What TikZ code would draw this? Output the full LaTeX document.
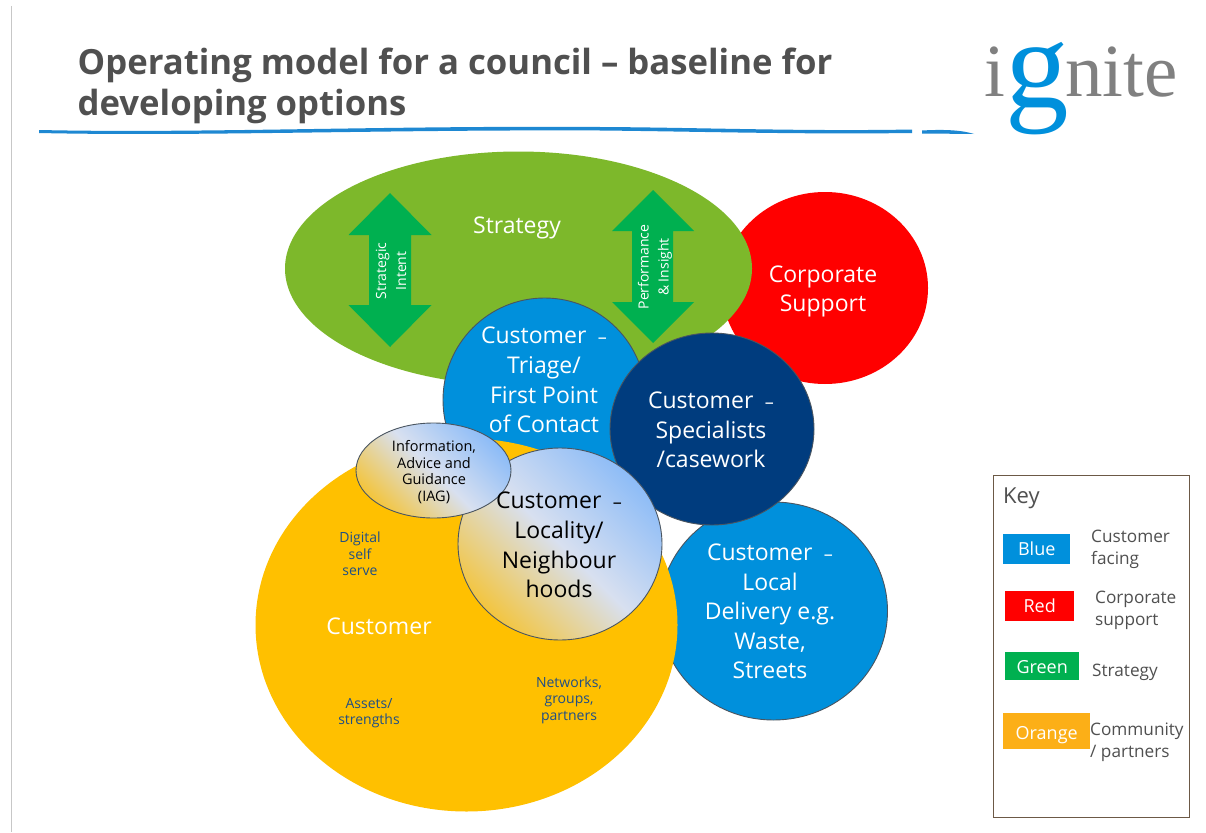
\documentclass[tikz,border=0pt]{standalone}
\usepackage{fontspec}
\setmainfont{Open Sans}
\newfontfamily\logofont{Liberation Serif}
\usetikzlibrary{shapes.geometric,shapes.arrows}
\definecolor{cblue}{HTML}{0090DC}
\definecolor{cnavy}{HTML}{003C7E}
\definecolor{cgreen}{HTML}{7DB82B}
\definecolor{cdgreen}{HTML}{00B050}
\definecolor{cred}{HTML}{FF0000}
\definecolor{cyellow}{HTML}{FFC000}
\definecolor{corange}{HTML}{FCAF17}
\definecolor{ctext}{HTML}{505050}
\definecolor{cnote}{HTML}{1F4E86}
\definecolor{cline}{HTML}{1E88D2}
\definecolor{cedge}{HTML}{4A5560}
\definecolor{cgb}{HTML}{8DBCF7}
\definecolor{cgm}{HTML}{D8E0F0}
\definecolor{cgo}{HTML}{F3C53F}
\newcommand{\shortdash}{\,\,\,{\fontsize{18}{18}\selectfont –}}
\tikzset{
  x=1pt,y=-1pt,
  blob/.style={ellipse,inner sep=0pt,outer sep=0pt},
  edged/.style={blob,draw=cedge,line width=0.9pt},
  glass/.style={edged,bottom color=cgo,top color=cgb,middle color=cgm,shading angle=-45},
  big/.style={align=center,inner sep=0pt,text=white,font=\fontsize{23}{29.6}\selectfont},
  iag/.style={align=center,inner sep=0pt,font=\fontsize{14.5}{16.6}\selectfont},
  note/.style={align=center,inner sep=0pt,text=cnote,font=\fontsize{14}{16.6}\selectfont},
  sidetxt/.style={align=center,inner sep=0pt,text=white,rotate=90,font=\fontsize{14}{20}\selectfont},
  swatch/.style={inner sep=0pt,anchor=north west},
  swatchtxt/.style={inner sep=0pt,text=white,text height=13pt,text depth=4pt,font=\fontsize{18}{22}\selectfont},
  keytxt/.style={align=left,inner sep=0pt,anchor=west,text=ctext,font=\fontsize{17.2}{22.4}\selectfont},
  dbl/.style={fill=cdgreen,draw=none},
}
\begin{document}
\begin{tikzpicture}
\useasboundingbox (0,0) rectangle (1206,832);
\fill[white] (0,0) rectangle (1206,832);
\draw[line width=1pt,color=black!22] (11,6) -- (11,832);
% title
\node[anchor=west,align=left,inner sep=0pt,text=ctext,font=\fontsize{34.7}{41}\selectfont\bfseries] (title) at (77.5,85.5) {Operating model for a council – baseline for\\developing options};
% brush rule
\fill[cline] (39,130) .. controls (200,133.5) and (380,125.5) .. (600,127) .. controls (700,127.5) and (800,131.5) .. (912,129.5) -- (912,133) .. controls (800,134.5) and (700,131.5) .. (600,130.5) .. controls (380,129.5) and (200,136.5) .. (39,133) -- cycle;
\fill[cline] (922,130.5) .. controls (940,129.5) and (960,129.5) .. (974,134) .. controls (960,134) and (940,133.5) .. (922,133.5) -- cycle;
% logo
\node[anchor=base west,inner sep=0pt,text=black!50,font=\logofont\fontsize{75}{75}\selectfont] (logoi) at (984,97) {i};
\node[anchor=base west,inner sep=0pt,text=cblue,font=\logofont\fontsize{127}{127}\selectfont] (logog) at (1005,107) {g};
\node[anchor=base west,inner sep=0pt,text=black!50,font=\logofont\fontsize{75}{75}\selectfont] (logon) at (1065,97) {nite};
% circles
\node[blob,fill=cred,minimum width=206pt,minimum height=192pt] (corp) at (825,288) {};
\node[blob,fill=cgreen,minimum width=467pt,minimum height=234pt] (strat) at (518.5,268.5) {};
\path[dbl] (390,193) -- (431.5,235) -- (411,235) -- (411,305) -- (431.5,305) -- (390,347) -- (348.5,305) -- (369,305) -- (369,235) -- (348.5,235) -- cycle;
\path[dbl] (653,190) -- (694,231) -- (673,231) -- (673,302) -- (694,302) -- (653,343) -- (612,302) -- (632,302) -- (632,231) -- (612,231) -- cycle;
\node[edged,fill=cblue,minimum width=203pt,minimum height=204pt] (triage) at (544.5,400) {};
\node[edged,fill=cblue,minimum width=228pt,minimum height=218pt] (local) at (773.5,611) {};
\node[edged,fill=cnavy,minimum width=204pt,minimum height=192pt] (spec) at (712,429) {};
\node[blob,fill=cyellow,minimum width=422pt,minimum height=373pt] (cust) at (466.5,625) {};
\node[glass,minimum width=204pt,minimum height=192pt] (loc) at (560,544) {};
\node[glass,minimum width=155pt,minimum height=95pt] (iagc) at (433.5,470.5) {};
% labels
\node[big] (tstrat) at (517,228) {Strategy};
\node[big] (tcorp) at (823,291.5) {Corporate\\Support};
\node[big] (ttri) at (544,380) {Customer\shortdash\\Triage/\\First Point\\of Contact};
\node[big] (tspec) at (711,430) {Customer\shortdash\\Specialists\\/casework};
\node[big,text=black] (tloc) at (559,545) {Customer\shortdash\\Locality/\\Neighbour\\hoods};
\node[big] (tlocal) at (770,611.5) {Customer\shortdash\\Local\\Delivery e.g.\\Waste,\\Streets};
\node[big] (tcust) at (379,626.5) {Customer};
\node[iag] (tiag) at (434,472) {Information,\\Advice and\\Guidance\\(IAG)};
\node[note] (tdig) at (360,554) {Digital\\self\\serve};
\node[note] (tass) at (369,713) {Assets/\\strengths};
\node[note] (tnet) at (569,700) {Networks,\\groups,\\partners};
\node[sidetxt] (tsi) at (391,271) {Strategic\\Intent};
\node[sidetxt] (tpi) at (655,267) {Performance\\\& Insight};
% key
\draw[color=black!50!brown!60!gray,line width=1pt] (993,475.5) rectangle (1189,817.5);
\node[anchor=west,inner sep=0pt,text=ctext,font=\fontsize{22}{26}\selectfont] (tkey) at (1003,498) {Key};
\node[swatch,fill=cblue,minimum width=67pt,minimum height=30pt] (kb) at (1003,534) {};
\node[swatch,fill=cred,minimum width=69pt,minimum height=30pt] (kr) at (1005,591) {};
\node[swatch,fill=cdgreen,minimum width=74pt,minimum height=28pt] (kg) at (1005,652) {};
\node[swatch,fill=corange,minimum width=87pt,minimum height=36pt] (ko) at (1003,713) {};
\node[swatchtxt,yshift=-2pt] (kbt) at (kb.center) {Blue};
\node[swatchtxt,yshift=-2pt] (krt) at (kr.center) {Red};
\node[swatchtxt,yshift=-3pt] (kgt) at (kg.center) {Green};
\node[swatchtxt,yshift=-4pt] (kot) at (ko.center) {Orange};
\node[keytxt] (t1) at (1091,549.5) {Customer\\facing};
\node[keytxt] (t2) at (1095,610.5) {Corporate\\support};
\node[keytxt] (t3) at (1092,672) {Strategy};
\node[keytxt] (t4) at (1090,742.5) {Community\\/ partners};
\end{tikzpicture}
\end{document}
